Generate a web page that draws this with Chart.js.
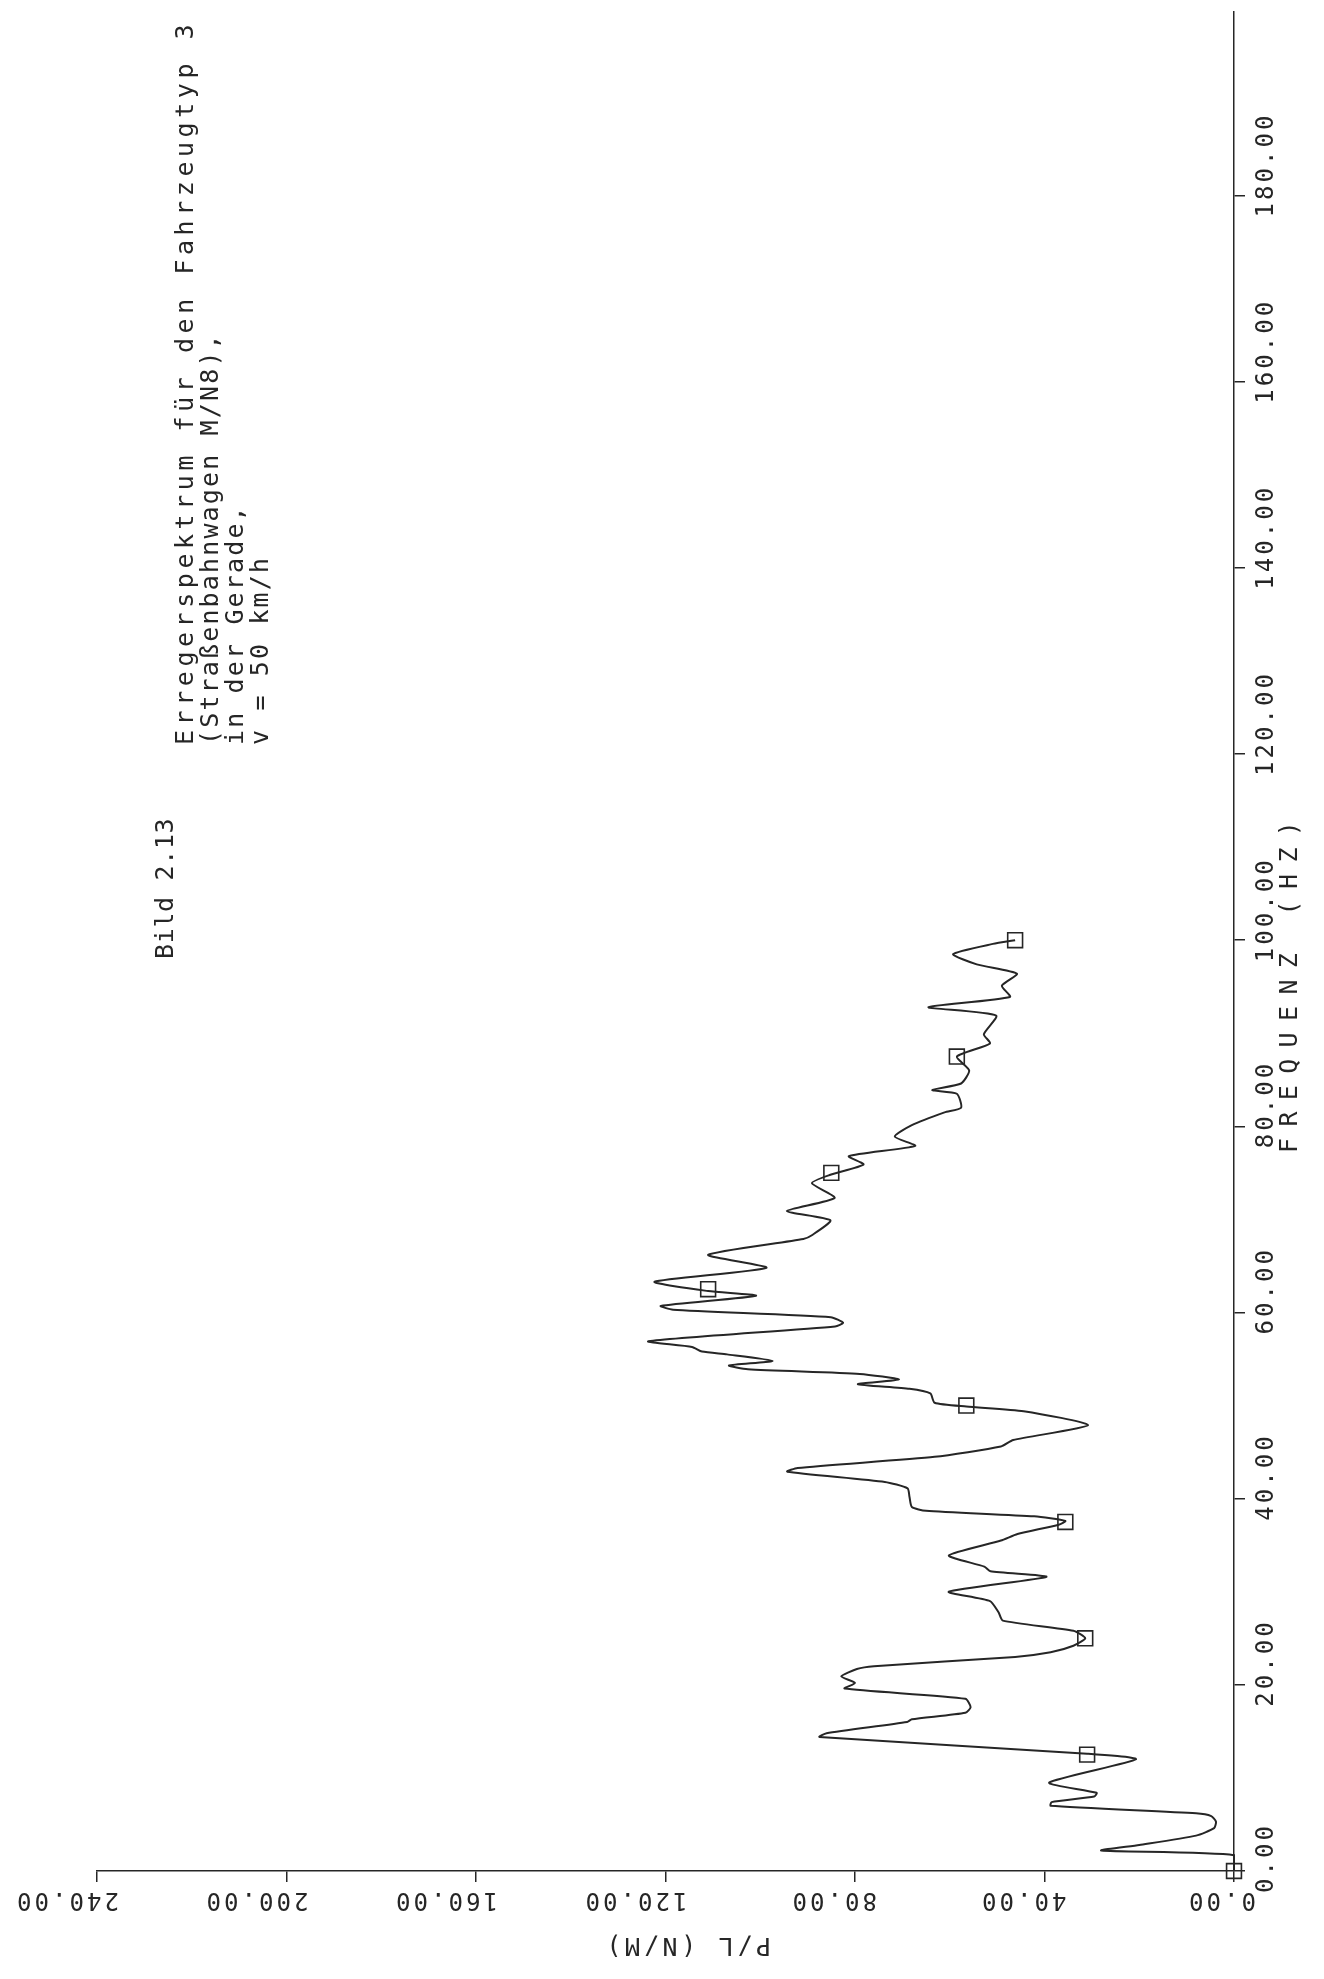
<!DOCTYPE html>
<html>
<head>
<meta charset="utf-8">
<script src="https://cdn.jsdelivr.net/npm/chart.js@4.4.1/dist/chart.umd.min.js"></script>
<style>
  html, body { margin: 0; padding: 0; background: #fff; }
  canvas { display: block; }
</style>
</head>
<body>
<canvas id="spektrum" width="1324" height="1979"></canvas>
<script>
// Kurve: Frequenz (Hz) und zugehoeriges P/L (N/M)
const freq = [
  0, 1.7, 2.2, 2.8, 3.8, 4.6, 5.3, 5.9, 6.2, 7.0,
  7.4, 8.0, 8.4, 9.5, 12.0, 12.6, 14.4, 14.8, 16.0, 16.3,
  17.0, 17.6, 18.5, 19.6, 20.2, 20.9, 21.7, 22.0, 23.0, 23.5,
  24.2, 25.0, 25.8, 26.9, 27.8, 29.0, 30.0, 31.6, 32.2, 32.7,
  33.9, 35.5, 36.2, 37.2, 37.6, 38.1, 38.7, 39.1, 40.2, 41.1,
  41.8, 42.9, 43.3, 44.5, 45.6, 46.3, 47.9, 49.4, 49.9, 50.3,
  51.3, 51.8, 52.3, 52.8, 53.4, 53.9, 54.3, 54.8, 55.5, 55.8,
  56.3, 56.9, 58.5, 58.9, 59.5, 60.3, 60.7, 61.8, 62.3, 63.3,
  64.8, 66.2, 67.9, 68.3, 69.9, 70.9, 72.3, 73.9, 74.8, 75.9,
  76.8, 77.9, 78.9, 80.1, 81.5, 82.0, 83.5, 83.9, 84.6, 86.0,
  87.5, 88.9, 89.9, 91.9, 92.8, 93.9, 95.1, 96.4, 97.4, 98.5,
  99.6, 100.0
];
const pl = [
  0, 0, 28, 20, 8, 4.2, 3.8, 4.8, 8, 38.7,
  38.5, 29.5, 29, 39, 20.7, 31, 87.5, 86, 69, 68,
  56.7, 55.6, 56.7, 82.2, 80, 82.9, 79.6, 76, 46.2, 38.7,
  33.9, 31.4, 33.9, 48.8, 49.7, 51.5, 60.2, 39.6, 51.4, 52.7,
  60.2, 49.2, 45.7, 37, 35.6, 42.2, 65, 68, 68.5, 68.9,
  73.7, 94.3, 92.1, 63.2, 49.2, 46.6, 30.8, 44.4, 56.5, 63.2,
  64.1, 68.5, 79.4, 70.7, 79, 102.6, 106.6, 97.4, 107, 112.3,
  114.4, 123.6, 84.2, 82.5, 85.1, 118.4, 121, 100.9, 111, 122.3,
  98.7, 111, 90.9, 89.1, 85.2, 94.4, 84.3, 89.1, 85.2, 78.2,
  81.3, 67.3, 71.6, 68.1, 61.1, 57.6, 58.5, 63.7, 57.6, 55.9,
  58.5, 51.5, 52.8, 50.2, 64.5, 47.3, 49, 45.8, 54.3, 59.3,
  50.9, 46.2
];

// Plottermarken (Quadrate)
const markFreq = [0, 12.5, 25, 37.5, 50, 62.5, 75, 87.5, 100];
const markPl = [0, 31, 31.4, 35.6, 56.5, 111, 85, 58.5, 46.2];

const freqTicks = [0, 20, 40, 60, 80, 100, 120, 140, 160, 180];
const freqTickLabels = ['0.00', '20.00', '40.00', '60.00', '80.00', '100.00', '120.00', '140.00', '160.00', '180.00'];
const plTicks = [0, 40, 80, 120, 160, 200, 240];
const plTickLabels = ['0.00', '40.00', '80.00', '120.00', '160.00', '200.00', '240.00'];

const freqTitle = 'FREQUENZ (HZ)';
const plTitle = 'P/L (N/M)';
const figLabel = 'Bild 2.13';
const captionLines = [
  'Erregerspektrum für den Fahrzeugtyp 3',
  '(Straßenbahnwagen M/N8),',
  'in der Gerade,',
  'v = 50 km/h'
];

const ink = '#262626';
const mono = '"DejaVu Sans Mono", monospace';

// plotter text: fixed advance per character
function spaced(ctx, text, adv) {
  for (let i = 0; i < text.length; i++) {
    ctx.fillText(text[i], i * adv, 0);
  }
}

function rotText(ctx, text, x, y, angle, adv) {
  ctx.save();
  ctx.translate(x, y);
  ctx.rotate(angle);
  spaced(ctx, text, adv);
  ctx.restore();
}

const plotterText = {
  id: 'plotterText',
  afterDraw(chart) {
    const ctx = chart.ctx;
    const xs = chart.scales.x;
    const ys = chart.scales.y;
    ctx.save();
    ctx.fillStyle = ink;
    ctx.textAlign = 'left';
    ctx.textBaseline = 'alphabetic';

    ctx.font = '24px ' + mono;
    // P/L ticks, upside down
    plTicks.forEach((v, i) => {
      rotText(ctx, plTickLabels[i], xs.getPixelForValue(v) + 22, xs.top + 22, Math.PI, 17.5);
    });
    // frequency ticks, read bottom to top
    freqTicks.forEach((v, i) => {
      rotText(ctx, freqTickLabels[i], ys.left + 39, ys.getPixelForValue(v) + 22, -Math.PI / 2, 17.5);
    });

    ctx.font = '25px ' + mono;
    rotText(ctx, freqTitle, ys.left + 63, 1153, -Math.PI / 2, 26.4);
    rotText(ctx, plTitle, 771, xs.top + 67, Math.PI, 18.7);

    rotText(ctx, figLabel, 173, 959, -Math.PI / 2, 15.7);
    const captionAdv = [19.6, 17.2, 17.2, 17.2];
    captionLines.forEach((line, i) => {
      rotText(ctx, line, 193 + i * 25, 745, -Math.PI / 2, captionAdv[i]);
    });
    ctx.restore();
  }
};

const axisGrid = { drawOnChartArea: false, drawTicks: true, tickLength: 11, color: ink, lineWidth: 1.5 };
const axisBorder = { display: true, color: ink, width: 1.5 };

new Chart(document.getElementById('spektrum'), {
  type: 'scatter',
  data: {
    datasets: [{
      data: freq.map((f, i) => ({ x: pl[i], y: f })),
      showLine: true,
      borderColor: ink,
      borderWidth: 2,
      pointRadius: 0,
      tension: 0.2,
      clip: false
    }, {
      data: markFreq.map((f, i) => ({ x: markPl[i], y: f })),
      showLine: false,
      pointStyle: 'rect',
      pointRadius: 10.5,
      borderWidth: 1.6,
      borderColor: ink,
      backgroundColor: 'rgba(0,0,0,0)',
      clip: false
    }]
  },
  options: {
    responsive: false,
    devicePixelRatio: 1,
    animation: false,
    events: [],
    layout: { padding: { left: 97, top: 4, right: 0, bottom: 0 } },
    plugins: { legend: { display: false }, tooltip: { enabled: false } },
    scales: {
      x: {
        type: 'linear', position: 'bottom', min: 0, max: 240, reverse: true,
        afterBuildTicks: s => { s.ticks = plTicks.map(v => ({ value: v })); },
        afterFit: s => { s.height = 108; },
        ticks: { display: false },
        grid: axisGrid,
        border: axisBorder
      },
      y: {
        type: 'linear', position: 'right', min: 0, max: 199.7,
        afterBuildTicks: s => { s.ticks = freqTicks.map(v => ({ value: v })); },
        afterFit: s => { s.width = 90; },
        ticks: { display: false },
        grid: axisGrid,
        border: axisBorder
      }
    }
  },
  plugins: [plotterText]
});
</script>
</body>
</html>
